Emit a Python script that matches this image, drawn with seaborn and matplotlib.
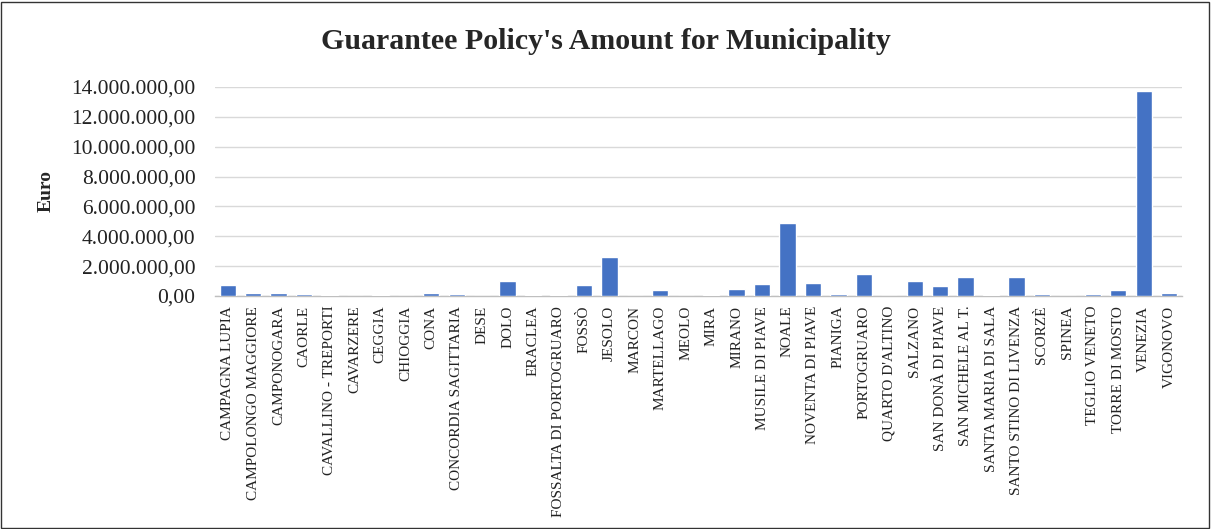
import matplotlib
matplotlib.use("Agg")
import matplotlib.pyplot as plt
import matplotlib.ticker as mticker
from matplotlib.patches import Rectangle
import seaborn as sns
import pandas as pd

municipalities = [
    "CAMPAGNA LUPIA", "CAMPOLONGO MAGGIORE", "CAMPONOGARA", "CAORLE",
    "CAVALLINO - TREPORTI", "CAVARZERE", "CEGGIA", "CHIOGGIA", "CONA",
    "CONCORDIA SAGITTARIA", "DESE", "DOLO", "ERACLEA",
    "FOSSALTA DI PORTOGRUARO", "FOSSÒ", "JESOLO", "MARCON", "MARTELLAGO",
    "MEOLO", "MIRA", "MIRANO", "MUSILE DI PIAVE", "NOALE",
    "NOVENTA DI PIAVE", "PIANIGA", "PORTOGRUARO", "QUARTO D'ALTINO",
    "SALZANO", "SAN DONÀ DI PIAVE", "SAN MICHELE AL T.",
    "SANTA MARIA DI SALA", "SANTO STINO DI LIVENZA", "SCORZÈ", "SPINEA",
    "TEGLIO VENETO", "TORRE DI MOSTO", "VENEZIA", "VIGONOVO",
]
amounts = [
    720000, 180000, 220000, 110000,
    70000, 0, 45000, 0, 200000,
    100000, 0, 980000, 45000,
    45000, 760000, 2620000, 25000, 380000,
    0, 45000, 440000, 820000, 4870000,
    840000, 130000, 1440000, 0,
    990000, 640000, 1240000,
    45000, 1240000, 100000, 0,
    160000, 380000, 13700000, 230000,
]

df = pd.DataFrame({"Municipality": municipalities, "Euro": amounts})

sns.set_theme(style="white")
plt.rcParams["font.family"] = ["Liberation Serif", "DejaVu Serif"]

fig = plt.figure(figsize=(12.11, 5.29), dpi=100)
ax = fig.add_axes([0.1775, 0.4405, 0.7985, 0.395])

sns.barplot(data=df, x="Municipality", y="Euro", color="#4472C4",
            saturation=1, width=0.64, ax=ax, zorder=3)

ax.set_ylim(0, 14000000)
ax.set_yticks(range(0, 14000001, 2000000))


def euro_fmt(v, _pos):
    s = f"{v:,.2f}"
    return s.replace(",", "X").replace(".", ",").replace("X", ".")


ax.yaxis.set_major_formatter(mticker.FuncFormatter(euro_fmt))
ax.grid(axis="y", color="#D9D9D9", linewidth=1, zorder=0)
ax.grid(axis="x", visible=False)
for side in ("top", "right", "left"):
    ax.spines[side].set_visible(False)
ax.spines["bottom"].set_color("#BFBFBF")
ax.spines["bottom"].set_linewidth(1)

ax.tick_params(axis="y", labelsize=15.5, length=0, pad=14, colors="#222222")
ax.tick_params(axis="x", labelsize=11, length=0, pad=7, rotation=90,
               colors="#222222")
ax.set_xlim(-0.5, len(municipalities) - 0.5)
ax.set_xlabel("")
ax.set_ylabel("Euro", fontsize=14, fontweight="bold")
ax.yaxis.set_label_coords(-0.166, 0.5)

fig.text(0.5, 0.922, "Guarantee Policy's Amount for Municipality",
         ha="center", va="center", fontsize=21.5, fontweight="bold")

fig.patches.append(Rectangle((0.001, 0.002), 0.997, 0.995,
                             transform=fig.transFigure, fill=False,
                             edgecolor="#333333", linewidth=1))

fig.savefig("out.png", dpi=100)
